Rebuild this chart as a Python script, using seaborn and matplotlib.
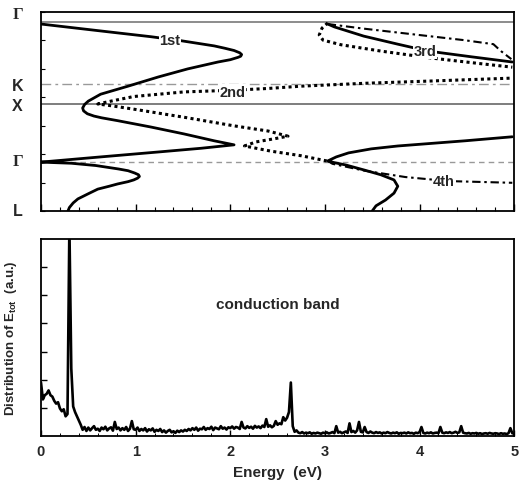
import numpy as np
import matplotlib
matplotlib.use('Agg')
import matplotlib.pyplot as plt
import seaborn as sns
from matplotlib.ticker import MultipleLocator, LinearLocator
from matplotlib.transforms import blended_transform_factory

# band structure: energy (eV) vs position along the k path (L=0 ... top Gamma)
k_points = [0.0, 0.85, 1.86, 2.21, 3.29]
k_labels = ['L', 'Γ', 'X', 'K', 'Γ']
k_label_pos = [0.0, 0.87, 1.84, 2.18, 3.43]

band1_E = [0.285, 0.30, 0.34, 0.39, 0.50, 0.60, 0.72, 0.81, 0.92, 0.98, 1.02, 1.04, 1.03, 0.99,
           0.92, 0.82, 0.70, 0.58, 0.45, 0.32, 0.15, 0.0,
           0.63, 1.27, 1.69, 2.04,
           1.83, 1.51, 1.16, 0.81, 0.64, 0.56, 0.49, 0.45, 0.44, 0.46, 0.50, 0.63, 0.92, 1.24, 1.55,
           1.87, 2.00, 2.08, 2.11, 2.12, 2.10, 2.04, 1.94, 1.83, 1.48, 1.16, 0.63, 0.0]
band1_k = [0.0, 0.06, 0.14, 0.21, 0.30, 0.38, 0.43, 0.47, 0.51, 0.54, 0.57, 0.60, 0.63, 0.66,
           0.70, 0.73, 0.76, 0.79, 0.81, 0.83, 0.84, 0.85,
           0.94, 1.03, 1.09, 1.15,
           1.22, 1.34, 1.46, 1.57, 1.62, 1.65, 1.69, 1.74, 1.79, 1.85, 1.91, 2.03, 2.17, 2.33, 2.47,
           2.59, 2.63, 2.67, 2.69, 2.72, 2.75, 2.79, 2.83, 2.87, 2.96, 3.03, 3.13, 3.25]

band2_E = [3.02, 2.75, 2.43, 2.15, 2.27, 2.48, 2.61, 2.40, 2.04, 1.51, 0.98, 0.74, 0.60,
           0.74, 0.98, 1.51, 2.04, 2.40, 2.75, 3.42, 4.13, 4.98]
band2_k = [0.87, 0.96, 1.04, 1.13, 1.20, 1.26, 1.30, 1.39, 1.48, 1.63, 1.77, 1.83, 1.86,
           1.91, 1.99, 2.07, 2.10, 2.13, 2.17, 2.22, 2.26, 2.31]

# solid band starting at L around 3.5 eV
band3_low_E = [3.50, 3.54, 3.64, 3.73, 3.77, 3.73, 3.59, 3.42, 3.22, 3.10, 3.03,
               3.12, 3.25, 3.49, 3.77, 4.48, 4.98]
band3_low_k = [0.0, 0.09, 0.19, 0.31, 0.43, 0.54, 0.63, 0.71, 0.80, 0.84, 0.87,
               0.94, 1.01, 1.08, 1.13, 1.22, 1.29]

band4_E = [3.03, 3.08, 3.42, 3.85, 4.30, 4.98]
band4_k = [0.87, 0.82, 0.70, 0.59, 0.52, 0.49]

band3_solid_E = [3.03, 3.10, 3.41, 3.77, 4.09, 4.55, 4.98]
band3_solid_k = [3.25, 3.20, 3.04, 2.90, 2.78, 2.68, 2.59]
band3_dashdot_E = [3.03, 3.41, 3.94, 4.47, 4.78, 4.86, 4.97]
band3_dashdot_k = [3.25, 3.17, 3.07, 2.97, 2.90, 2.78, 2.64]
band3_dot_E = [3.03, 2.97, 2.94, 2.98, 3.17, 3.59, 4.12, 4.65, 4.98]
band3_dot_k = [3.27, 3.18, 3.06, 2.97, 2.89, 2.78, 2.66, 2.56, 2.50]

# distribution of E_tot, sampled every 0.02 eV from 0 to 5 eV
energy = np.round(np.arange(0, 251) * 0.02, 2)
dist = [1.9, 1.3, 1.45, 1.5, 1.62, 1.45, 1.4, 1.25, 1.15, 1.2, 0.98, 0.88, 0.95, 0.7, 0.78,
        7.5, 2.4, 1.05, 0.85, 0.7, 0.55, 0.4, 0.22, 0.32, 0.18,
        0.3, 0.2, 0.28, 0.35, 0.22, 0.26, 0.18, 0.3, 0.24, 0.33, 0.2, 0.27, 0.31, 0.19, 0.5,
        0.25, 0.3, 0.2, 0.28, 0.22, 0.32, 0.18, 0.26, 0.53, 0.24,
        0.22, 0.3, 0.18, 0.25, 0.2, 0.28, 0.16, 0.24, 0.2, 0.27, 0.15, 0.22, 0.18, 0.25, 0.14,
        0.2, 0.12, 0.18, 0.22, 0.13, 0.17, 0.11, 0.19, 0.14, 0.2,
        0.16, 0.22, 0.18, 0.25, 0.2, 0.28, 0.22, 0.3, 0.19, 0.26, 0.24, 0.32, 0.22, 0.28, 0.25,
        0.33, 0.21, 0.3, 0.27, 0.24, 0.35, 0.26, 0.3, 0.23, 0.31,
        0.28, 0.34, 0.26, 0.32, 0.3, 0.25, 0.5, 0.3, 0.27, 0.35, 0.29, 0.33, 0.26, 0.36, 0.3,
        0.34, 0.28, 0.37, 0.32, 0.6, 0.33, 0.38, 0.31, 0.36, 0.53,
        0.4, 0.45, 0.42, 0.67, 0.55, 0.65, 0.85,
        1.9,
        0.35, 0.15, 0.2, 0.12, 0.1, 0.14, 0.09, 0.12,
        0.1, 0.13, 0.08, 0.11, 0.09, 0.12, 0.1, 0.08, 0.12, 0.1,
        0.13, 0.09, 0.11, 0.14, 0.1, 0.35, 0.12, 0.15, 0.1, 0.13,
        0.16, 0.11, 0.45, 0.14, 0.18, 0.12, 0.2, 0.5, 0.15, 0.13,
        0.32, 0.14, 0.11, 0.16, 0.12, 0.1, 0.14, 0.11, 0.13, 0.09,
        0.12, 0.1, 0.14, 0.11, 0.09, 0.12, 0.1, 0.13, 0.08, 0.11,
        0.1, 0.12, 0.09, 0.13, 0.1, 0.11, 0.08, 0.12, 0.1, 0.14,
        0.32, 0.11, 0.09, 0.12, 0.1, 0.13, 0.09, 0.11, 0.12, 0.1,
        0.32, 0.12, 0.1, 0.13, 0.11, 0.14, 0.1, 0.12, 0.15, 0.11,
        0.13, 0.35, 0.12, 0.1, 0.09, 0.11, 0.08, 0.1, 0.09, 0.11,
        0.08, 0.1, 0.07, 0.09, 0.1, 0.08, 0.11, 0.09, 0.08, 0.1,
        0.09, 0.07, 0.1, 0.08, 0.09, 0.07, 0.1, 0.28, 0.1, 0.08]

sns.set_theme(style='white')
plt.rcParams['font.family'] = ['Liberation Sans', 'DejaVu Sans']
plt.rcParams['font.weight'] = 'bold'
plt.rcParams['axes.labelweight'] = 'bold'
plt.rcParams['mathtext.fontset'] = 'custom'
plt.rcParams['mathtext.rm'] = 'Liberation Sans:bold'
plt.rcParams['mathtext.bf'] = 'Liberation Sans:bold'
plt.rcParams['mathtext.default'] = 'bf'

fig = plt.figure(figsize=(5.29, 4.89), dpi=100)
ax1 = fig.add_axes([0.0775, 0.5665, 0.8945, 0.407])
ax2 = fig.add_axes([0.0775, 0.1063, 0.8945, 0.403])

# ---- top panel: band structure ----
grey_styles = [None, (0.6, (4, 3), 1.0), (0.45, None, 1.3), (0.6, (7, 3, 2, 3), 1.0), (0.55, None, 1.4)]
for kp, st in zip(k_points, grey_styles):
    if st is None:
        continue
    c, d, w = st
    line = ax1.axhline(kp, color=str(c), lw=w, zorder=1)
    if d is not None:
        line.set_dashes(d)

solid = dict(sort=False, estimator=None, color='black', lw=2.0, ax=ax1)
dotted = dict(sort=False, estimator=None, color='black', lw=2.2, linestyle=(0, (1.0, 1.1)), ax=ax1)
dashdot = dict(sort=False, estimator=None, color='black', lw=1.5, linestyle=(0, (4, 1.8, 1.2, 1.8)), ax=ax1)

sns.lineplot(x=band1_E, y=band1_k, **solid)
sns.lineplot(x=band3_low_E, y=band3_low_k, **solid)
sns.lineplot(x=band3_solid_E, y=band3_solid_k, **solid)
sns.lineplot(x=band2_E, y=band2_k, **dotted)
sns.lineplot(x=band3_dot_E, y=band3_dot_k, **dotted)
sns.lineplot(x=band4_E, y=band4_k, **dashdot)
sns.lineplot(x=band3_dashdot_E, y=band3_dashdot_k, **dashdot)

box = dict(facecolor='white', edgecolor='none', pad=0.3)
ax1.text(1.36, 2.97, '1st', fontsize=10.5, ha='center', va='center', bbox=box)
ax1.text(2.02, 2.07, '2nd', fontsize=10.5, ha='center', va='center', bbox=box)
ax1.text(4.06, 2.78, '3rd', fontsize=10.5, ha='center', va='center', bbox=box)
ax1.text(4.26, 0.52, '4th', fontsize=10.5, ha='center', va='center', bbox=box)

ax1.set_xlim(0, 5)
ax1.set_ylim(0, 3.46)
ax1.set_yticks([])
ax1.yaxis.set_minor_locator(LinearLocator(8))
ax1.set_xticks([0, 1, 2, 3, 4, 5])
ax1.set_xticklabels([])
ax1.xaxis.set_minor_locator(MultipleLocator(0.2))
ax1.tick_params(axis='both', which='both', direction='in', color='black',
                bottom=True, left=True, top=False, right=False)
ax1.tick_params(which='major', length=5, width=1)
ax1.tick_params(which='minor', length=3, width=0.8)
ax1.set_xlabel('')
ax1.set_ylabel('')

trans = blended_transform_factory(ax1.transAxes, ax1.transData)
for pos, lab in zip(k_label_pos, k_labels):
    if lab == 'Γ':
        ax1.text(-0.048, pos, lab, transform=trans, ha='center', va='center',
                 fontsize=12, fontweight='bold', family=['Liberation Serif', 'DejaVu Serif'])
    else:
        ax1.text(-0.05, pos, lab, transform=trans, ha='center', va='center', fontsize=11.5)

# ---- bottom panel: distribution ----
sns.lineplot(x=energy, y=dist, sort=False, estimator=None, color='black', lw=1.9, ax=ax2)
ax2.set_xlim(0, 5)
ax2.set_ylim(0, 7)
ax2.set_xticks([0, 1, 2, 3, 4, 5])
ax2.set_xticklabels(['0', '1', '2', '3', '4', '5'], fontsize=10.5)
ax2.xaxis.set_minor_locator(MultipleLocator(0.2))
ax2.set_yticks([1, 2, 3, 4, 5, 6])
ax2.set_yticklabels([])
ax2.tick_params(axis='both', which='both', direction='in', color='black',
                bottom=True, left=True, top=False, right=False)
ax2.tick_params(which='major', length=4, width=1, pad=6)
ax2.tick_params(which='minor', length=2, width=0.7)
ax2.set_xlabel('Energy  (eV)', fontsize=11, labelpad=5)
ax2.set_ylabel('Distribution of E$_{tot}$  (a.u.)', fontsize=9.5, labelpad=10)
ax2.text(2.5, 4.7, 'conduction band', fontsize=11, ha='center', va='center')

for ax in (ax1, ax2):
    for sp in ax.spines.values():
        sp.set_color('black')
        sp.set_linewidth(1.3)

fig.savefig('out.png', dpi=100)
